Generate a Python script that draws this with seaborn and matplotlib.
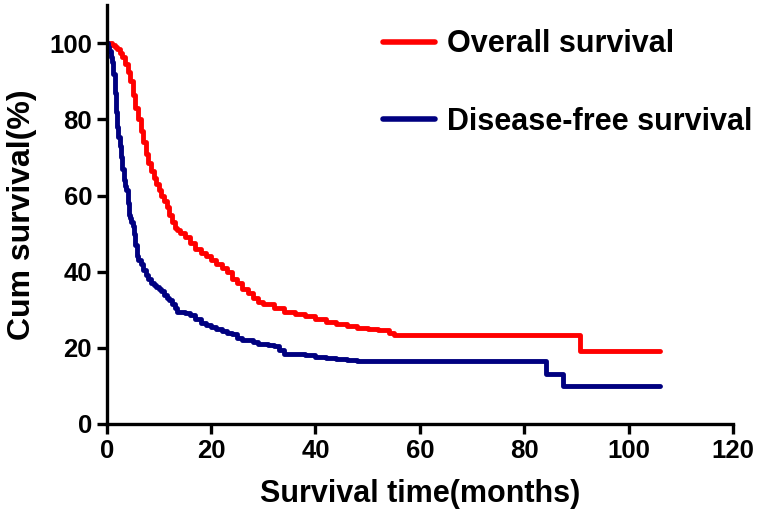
import pandas as pd
import matplotlib.pyplot as plt
import seaborn as sns

# Overall survival (step curve)
os_time = [0, 0.5, 1, 1.5, 2, 2.5, 3, 3.5, 4, 4.5, 5, 5.5, 6, 6.5, 7, 7.5, 8, 8.5, 9, 9.5,
           10, 10.5, 11, 11.5, 12, 12.5, 13, 13.5, 14, 15, 16, 17, 18, 19, 20, 21, 22, 23,
           24, 25, 26, 27, 28, 29, 30, 32, 34, 36, 38, 40, 42, 44, 46, 48, 50, 52, 54, 55,
           90.7, 106]
os_surv = [100, 100, 99.5, 99, 98.5, 97.5, 96.5, 94.5, 92.5, 90, 86.5, 83, 80, 77, 74, 71,
           68.5, 66.5, 64.5, 63, 61.5, 60, 58.5, 57, 55, 53, 51.5, 51, 50.2, 49, 47.5, 46,
           45, 44, 43, 42, 41, 40, 38, 37, 35.5, 34.5, 33, 32, 31.5, 30.5, 29.5, 29, 28.3,
           27.5, 26.8, 26.3, 25.8, 25.3, 25, 24.6, 24, 23.3, 19.2, 19.2]

# Disease-free survival
dfs_time = [0, 0.25, 0.5, 0.75, 1, 1.25, 1.5, 1.75, 2, 2.25, 2.5, 2.75, 3, 3.25, 3.5, 3.75,
            4, 4.25, 4.5, 4.75, 5, 5.25, 5.5, 5.75, 6, 6.5, 7, 7.5, 8, 8.5, 9, 9.5, 10,
            10.5, 11, 11.5, 12, 12.5, 13, 13.5, 14, 15, 16, 17, 18, 19, 20, 21, 22, 23, 24,
            25, 26, 28, 29, 31, 32, 33, 34, 36, 38, 40, 42, 44, 46, 48, 50, 84.2, 87.5, 106]
dfs_surv = [100, 99, 98, 96.5, 95, 92, 87, 82, 78, 75.5, 73, 70, 67, 64, 62.5, 61.5, 58, 55,
            54, 53, 52, 50, 47, 44, 43, 42, 40.5, 39, 38, 37, 36.5, 36, 35.5, 35, 34, 33,
            32.5, 31.5, 30.5, 29.5, 29.3, 29.2, 28.5, 27.5, 26.5, 26, 25.5, 25, 24.5, 24,
            23.5, 22.5, 22, 21.5, 21, 20.8, 20.5, 19.5, 18.5, 18.3, 18, 17.5, 17.3, 17,
            16.8, 16.6, 16.5, 13.1, 10, 10]

x_ticks = [0, 20, 40, 60, 80, 100, 120]
y_ticks = [0, 20, 40, 60, 80, 100]

df_os = pd.DataFrame({'time': os_time, 'surv': os_surv})
df_dfs = pd.DataFrame({'time': dfs_time, 'surv': dfs_surv})

sns.set_style('ticks')
plt.rcParams.update({'text.color': 'black', 'axes.labelcolor': 'black',
                     'xtick.color': 'black', 'ytick.color': 'black',
                     'axes.edgecolor': 'black'})
narrow = ['Liberation Sans Narrow', 'DejaVu Sans Condensed', 'Liberation Sans', 'DejaVu Sans']
wide = ['Liberation Sans', 'DejaVu Sans']

fig = plt.figure(figsize=(7.62, 5.17), dpi=100)
ax = fig.add_axes([0.140, 0.180, 0.822, 0.810])

sns.lineplot(data=df_os, x='time', y='surv', ax=ax, color='#ff0000', lw=3.5,
             drawstyle='steps-post', estimator=None, sort=False, label='Overall survival')
sns.lineplot(data=df_dfs, x='time', y='surv', ax=ax, color='#000080', lw=3.5,
             drawstyle='steps-post', estimator=None, sort=False, label='Disease-free survival')

ax.set_xlim(0, 120)
ax.set_ylim(0, 110)
ax.set_xticks(x_ticks)
ax.set_yticks(y_ticks)
ax.set_xticklabels([str(t) for t in x_ticks], family=narrow, weight='bold', fontsize=18.5)
ax.set_yticklabels([str(t) for t in y_ticks], family=narrow, weight='bold', fontsize=18.5)
ax.tick_params(width=2.4, length=7.5, pad=3)
for s in ['left', 'bottom']:
    ax.spines[s].set_linewidth(2.4)
sns.despine(ax=ax)

ax.set_xlabel('Survival time(months)', family=narrow, weight='bold', fontsize=22, labelpad=12)
ax.set_ylabel('Cum survival(%)', family=wide, weight='bold', fontsize=23, labelpad=9)

leg = ax.legend(loc='upper left', bbox_to_anchor=(0.441, 0.942), frameon=False,
                borderaxespad=0, borderpad=0,
                handlelength=1.7, handletextpad=0.4, labelspacing=1.55,
                prop={'family': wide, 'weight': 'bold', 'size': 22})
for line in leg.get_lines():
    line.set_linewidth(4)

fig.savefig('out.png', dpi=100)
